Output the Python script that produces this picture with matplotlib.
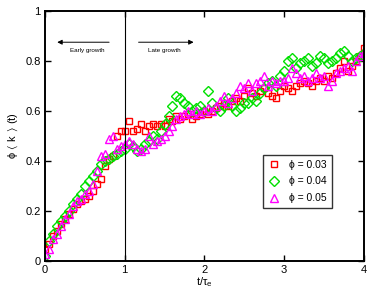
import matplotlib
matplotlib.use("Agg")
import matplotlib.pyplot as plt

plt.rcParams['font.family'] = ['Liberation Sans', 'DejaVu Sans']
plt.rcParams['mathtext.default'] = 'regular'

# time axis shared by all three series (t / tau_e)
t = [0.00, 0.05, 0.10, 0.15, 0.20, 0.25, 0.30, 0.35, 0.40, 0.45,
     0.50, 0.55, 0.60, 0.65, 0.70, 0.75, 0.80, 0.85, 0.90, 0.95,
     1.00, 1.05, 1.10, 1.15, 1.20, 1.25, 1.30, 1.35, 1.40, 1.45,
     1.50, 1.55, 1.60, 1.65, 1.70, 1.75, 1.80, 1.85, 1.90, 1.95,
     2.00, 2.05, 2.10, 2.15, 2.20, 2.25, 2.30, 2.35, 2.40, 2.45,
     2.50, 2.55, 2.60, 2.65, 2.70, 2.75, 2.80, 2.85, 2.90, 2.95,
     3.00, 3.05, 3.10, 3.15, 3.20, 3.25, 3.30, 3.35, 3.40, 3.45,
     3.50, 3.55, 3.60, 3.65, 3.70, 3.75, 3.80, 3.85, 3.90, 3.95,
     4.00]

phi_003 = [0.05, 0.07, 0.10, 0.12, 0.15, 0.17, 0.19, 0.21, 0.23, 0.24,
           0.25, 0.26, 0.28, 0.31, 0.33, 0.38, 0.41, 0.42, 0.50, 0.52,
           0.52, 0.56, 0.52, 0.53, 0.55, 0.52, 0.54, 0.55, 0.54, 0.55,
           0.54, 0.57, 0.56, 0.58, 0.57, 0.58, 0.59, 0.57, 0.58, 0.59,
           0.60, 0.59, 0.60, 0.61, 0.62, 0.63, 0.62, 0.64, 0.65, 0.64,
           0.66, 0.69, 0.67, 0.66, 0.68, 0.69, 0.67, 0.66, 0.65, 0.68,
           0.70, 0.69, 0.68, 0.70, 0.71, 0.72, 0.71, 0.70, 0.72, 0.73,
           0.72, 0.74, 0.73, 0.75, 0.77, 0.80, 0.76, 0.78, 0.80, 0.82,
           0.85]

phi_004 = [0.02, 0.08, 0.11, 0.14, 0.16, 0.18, 0.20, 0.23, 0.25, 0.27,
           0.30, 0.32, 0.34, 0.36, 0.39, 0.40, 0.41, 0.42, 0.43, 0.44,
           0.45, 0.47, 0.46, 0.44, 0.45, 0.47, 0.48, 0.50, 0.49, 0.52,
           0.55, 0.58, 0.62, 0.66, 0.65, 0.63, 0.62, 0.60, 0.61, 0.62,
           0.60, 0.68, 0.63, 0.61, 0.60, 0.62, 0.65, 0.62, 0.60, 0.61,
           0.63, 0.63, 0.65, 0.64, 0.67, 0.69, 0.71, 0.72, 0.70, 0.74,
           0.76, 0.80, 0.81, 0.77, 0.79, 0.80, 0.81, 0.78, 0.79, 0.82,
           0.81, 0.79, 0.80, 0.81, 0.83, 0.84, 0.82, 0.80, 0.81, 0.82,
           0.83]

phi_005 = [0.03, 0.05, 0.09, 0.11, 0.14, 0.17, 0.19, 0.22, 0.24, 0.25,
           0.27, 0.28, 0.31, 0.36, 0.42, 0.43, 0.49, 0.50, 0.45, 0.46,
           0.47, 0.48, 0.47, 0.45, 0.44, 0.45, 0.50, 0.47, 0.48, 0.49,
           0.50, 0.52, 0.54, 0.57, 0.58, 0.59, 0.60, 0.59, 0.60, 0.59,
           0.60, 0.61, 0.60, 0.62, 0.64, 0.66, 0.63, 0.65, 0.67, 0.70,
           0.69, 0.71, 0.68, 0.71, 0.72, 0.74, 0.70, 0.72, 0.71, 0.72,
           0.72, 0.73, 0.77, 0.75, 0.73, 0.74, 0.72, 0.73, 0.75, 0.73,
           0.74, 0.70, 0.72, 0.75, 0.76, 0.77, 0.78, 0.76, 0.80, 0.82,
           0.83]

labels = [u'\u03d5 = 0.03', u'\u03d5 = 0.04', u'\u03d5 = 0.05']
colors = ['#ff0000', '#00e000', '#ff00ff']
markers = ['s', 'D', '^']
msizes = [5.0, 4.6, 5.6]

fig = plt.figure(figsize=(3.74, 2.96), dpi=100)
ax = fig.add_axes([0.120, 0.118, 0.853, 0.845])

for y, lab, c, m, ms in zip([phi_003, phi_004, phi_005], labels, colors, markers, msizes):
    ax.plot(t, y, linestyle='none', marker=m, markersize=ms,
            markerfacecolor='none', markeredgecolor=c, markeredgewidth=1.0,
            label=lab)

# early / late growth divider
ax.axvline(1.0, color='black', linewidth=0.8)
ax.annotate('', xy=(0.12, 0.875), xytext=(0.84, 0.875),
            arrowprops=dict(arrowstyle='-|>', color='black', lw=0.7,
                            mutation_scale=7))
ax.annotate('', xy=(1.90, 0.875), xytext=(1.14, 0.875),
            arrowprops=dict(arrowstyle='-|>', color='black', lw=0.7,
                            mutation_scale=7))
ax.text(0.53, 0.84, 'Early growth', fontsize=4.5, ha='center', va='center')
ax.text(1.50, 0.84, 'Late growth', fontsize=4.5, ha='center', va='center')

ax.set_xlim(0, 4)
ax.set_ylim(0, 1)
ax.set_xticks([0, 1, 2, 3, 4])
ax.set_yticks([0, 0.2, 0.4, 0.6, 0.8, 1])
ax.set_yticklabels(['0', '0.2', '0.4', '0.6', '0.8', '1'])
ax.tick_params(direction='in', length=4, width=1, top=True, right=True,
               labelsize=8, pad=3)
for s in ax.spines.values():
    s.set_linewidth(1.4)

ax.set_xlabel(r'$t/\tau_e$', fontsize=8, labelpad=0)
ax.set_ylabel(r'$\phi\ \langle\ k\ \rangle\ (t)$', fontsize=8, labelpad=4)

leg = ax.legend(loc='upper left', bbox_to_anchor=(0.683, 0.424),
                borderaxespad=0, fontsize=7.5, frameon=True, fancybox=False,
                handlelength=1.2, handletextpad=0.9, labelspacing=0.65,
                borderpad=0.45)
leg.get_frame().set_edgecolor('black')
leg.get_frame().set_linewidth(1.0)

fig.savefig('out.png', dpi=100)
